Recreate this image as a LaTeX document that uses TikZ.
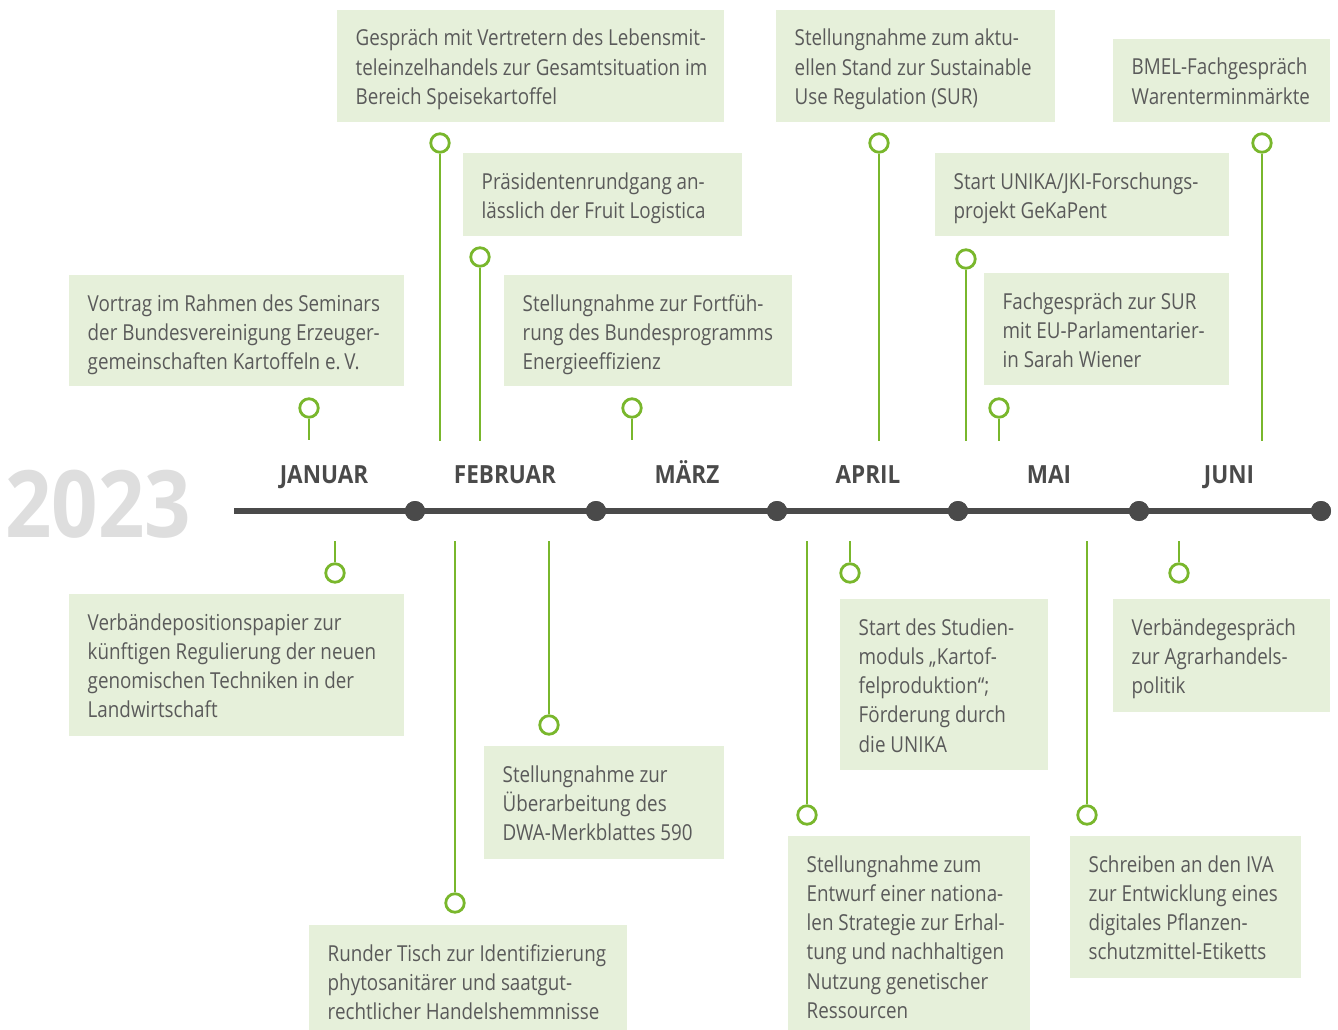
\documentclass[tikz,border=0pt]{standalone}
\usepackage{fontspec}
\setmainfont[FakeStretch=0.855]{Open Sans}
\newfontfamily\monthfont[FakeStretch=0.9]{Open Sans}
\newfontfamily\yearfont[FakeStretch=0.875]{Open Sans}
\definecolor{tlgreen}{HTML}{79B72C}
\definecolor{tlbox}{HTML}{E6F0DA}
\definecolor{tlgray}{HTML}{4A4A4A}
\definecolor{tltext}{HTML}{5A5A5A}
\definecolor{tlyear}{HTML}{DEDEDE}
\newcommand\tllines[1]{\vtop{\baselineskip=29.3pt\lineskiplimit=-20pt\halign{##\hfil\cr#1\crcr}}}
\tikzset{
  evbox/.style={fill=tlbox,draw=none,inner sep=0pt},
  evtext/.style={anchor=base west,inner sep=0pt,text=tltext,font=\fontsize{22}{29.3}\selectfont},
  pin/.style={circle,draw=tlgreen,line width=2.8pt,fill=white,minimum size=18.5pt,inner sep=0pt},
  stem/.style={draw=tlgreen,line width=2.8pt},
  month/.style={anchor=base,text=tlgray,font=\monthfont\bfseries\fontsize{25}{30}\selectfont},
  mdot/.style={circle,fill=tlgray,minimum size=20pt,inner sep=0pt},
}
\newcommand\evbox[6]{% name, x1, y1, x2, y2, lines
  \path[evbox] (#2,#3) rectangle (#4,#5);
  \node[evtext] (#1) at (#2+18.5,#3+36) {\tllines{#6}};
}
\begin{document}
\begin{tikzpicture}[x=1pt,y=-1pt]
\useasboundingbox (0,0) rectangle (1338,1030);

% year
\node[anchor=base west,inner sep=0pt,text=tlyear,font=\yearfont\bfseries\fontsize{93}{100}\selectfont] (year) at (5,537) {2023};

% timeline
\coordinate (t0) at (234,511);
\node[mdot] (d1) at (415,511) {};
\node[mdot] (d2) at (596,511) {};
\node[mdot] (d3) at (777,511) {};
\node[mdot] (d4) at (958,511) {};
\node[mdot] (d5) at (1139,511) {};
\node[mdot] (d6) at (1321,511) {};
\draw[tlgray,line width=5.5pt] (t0) -- (d6.center);
\foreach \d in {d1,d2,d3,d4,d5,d6} \node[mdot] at (\d) {};

% months
\node[month] (m1) at (324,483) {JANUAR};
\node[month] (m2) at (505,483) {FEBRUAR};
\node[month] (m3) at (687,483) {MÄRZ};
\node[month] (m4) at (868,483) {APRIL};
\node[month] (m5) at (1049,483) {MAI};
\node[month] (m6) at (1229,483) {JUNI};

% top boxes
\evbox{e1}{69}{275}{404}{386}{Vortrag im Rahmen des Seminars\cr der Bundesvereinigung Erzeuger-\cr gemeinschaften Kartoffeln e.\,V.}
\evbox{e2}{337}{10}{724}{122}{Gespräch mit Vertretern des Lebensmit-\cr teleinzelhandels zur Gesamtsituation im\cr Bereich Speisekartoffel}
\evbox{e3}{463}{153}{742}{236}{Präsidentenrundgang an-\cr lässlich der Fruit Logistica}
\evbox{e4}{504}{275}{792}{386}{Stellungnahme zur Fortfüh-\cr rung des Bundesprogramms\cr Energieeffizienz}
\evbox{e5}{776}{10}{1055}{122}{Stellungnahme zum aktu-\cr ellen Stand zur Sustainable\cr Use Regulation (SUR)}
\evbox{e6}{935}{153}{1229}{236}{Start UNIKA/JKI-Forschungs-\cr projekt GeKaPent}
\evbox{e7}{984}{273}{1229}{385}{Fachgespräch zur SUR\cr mit EU-Parlamentarier-\cr in Sarah Wiener}
\evbox{e8}{1113}{39}{1330}{122}{BMEL-Fachgespräch\cr Warenterminmärkte}

% bottom boxes
\evbox{e9}{69}{594}{404}{736}{Verbändepositionspapier zur\cr künftigen Regulierung der neuen\cr genomischen Techniken in der\cr Landwirtschaft}
\evbox{e10}{309}{925}{627}{1030}{Runder Tisch zur Identifizierung\cr phytosanitärer und saatgut-\cr rechtlicher Handelshemmnisse}
\evbox{e11}{484}{746}{724}{859}{Stellungnahme zur\cr Überarbeitung des\cr DWA-Merkblattes 590}
\evbox{e12}{788}{836}{1030}{1030}{Stellungnahme zum\cr Entwurf einer nationa-\cr len Strategie zur Erhal-\cr tung und nachhaltigen\cr Nutzung genetischer\cr Ressourcen}
\evbox{e13}{840}{599}{1048}{770}{Start des Studien-\cr moduls „Kartof-\cr felproduktion“;\cr Förderung durch\cr die UNIKA}
\evbox{e14}{1070}{836}{1301}{978}{Schreiben an den IVA\cr zur Entwicklung eines\cr digitales Pflanzen-\cr schutzmittel-Etiketts}
\evbox{e15}{1113}{599}{1330}{712}{Verbändegespräch\cr zur Agrarhandels-\cr politik}

% top pins
\node[pin] (p1) at (309,408) {}; \coordinate (q1) at (309,440);
\node[pin] (p2) at (440,143) {}; \coordinate (q2) at (440,441);
\node[pin] (p3) at (480,257) {}; \coordinate (q3) at (480,441);
\node[pin] (p4) at (632,408) {}; \coordinate (q4) at (632,440);
\node[pin] (p5) at (879,143) {}; \coordinate (q5) at (879,441);
\node[pin] (p6) at (966,259) {}; \coordinate (q6) at (966,441);
\node[pin] (p7) at (999,408) {}; \coordinate (q7) at (999,441);
\node[pin] (p8) at (1262,143) {}; \coordinate (q8) at (1262,441);
\foreach \i in {1,...,8} \draw[stem] (p\i.south) -- (q\i);

% bottom pins
\node[pin] (p9) at (335,573) {}; \coordinate (q9) at (335,541);
\node[pin] (p10) at (455,903) {}; \coordinate (q10) at (455,541);
\node[pin] (p11) at (549,725) {}; \coordinate (q11) at (549,541);
\node[pin] (p12) at (807,815) {}; \coordinate (q12) at (807,541);
\node[pin] (p13) at (850,573) {}; \coordinate (q13) at (850,541);
\node[pin] (p14) at (1087,815) {}; \coordinate (q14) at (1087,541);
\node[pin] (p15) at (1179,573) {}; \coordinate (q15) at (1179,541);
\foreach \i in {9,...,15} \draw[stem] (q\i) -- (p\i.north);
\end{tikzpicture}
\end{document}
